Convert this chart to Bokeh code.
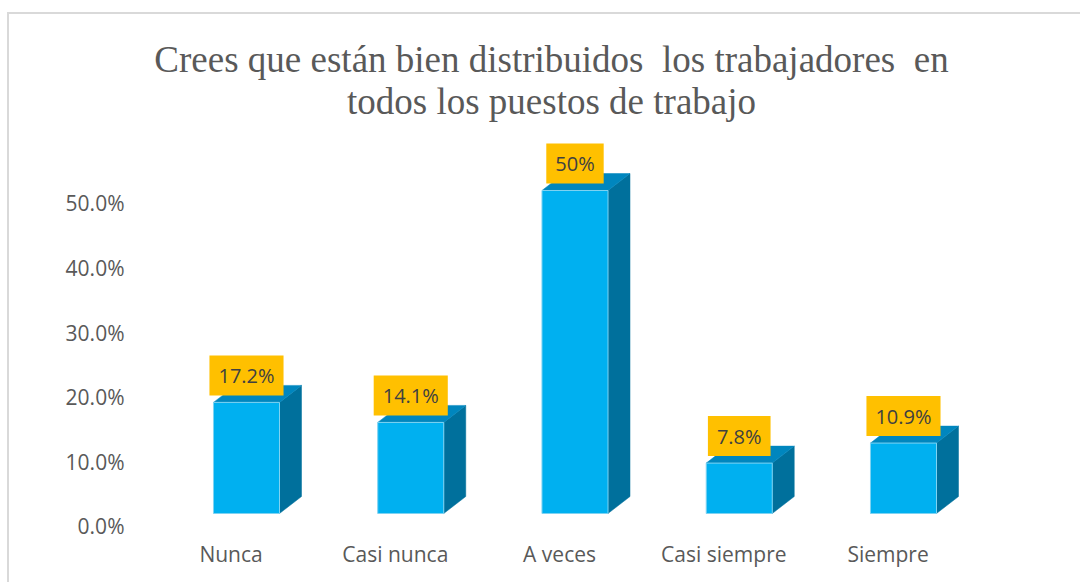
from bokeh.plotting import figure
from bokeh.models import Range1d, LinearAxis, FixedTicker, ColumnDataSource, Title
from bokeh.core.properties import value
from bokeh.embed import file_html
from bokeh.resources import INLINE

categories = ["Nunca", "Casi nunca", "A veces", "Casi siempre", "Siempre"]
values = [17.2, 14.1, 50.0, 7.8, 10.9]
value_labels = ["17.2%", "14.1%", "50%", "7.8%", "10.9%"]
y_ticks = [0, 10, 20, 30, 40, 50]
y_tick_labels = ["0.0%", "10.0%", "20.0%", "30.0%", "40.0%", "50.0%"]
title_lines = ["Crees que están bien distribuidos\u00a0 los trabajadores\u00a0 en",
               "todos los puestos de trabajo"]

FRONT = "#00B0F0"
SIDE = "#00709C"
TOP = "#0086BE"
GRAY = "#595959"

half_w = 0.201   # half width of the front face (category units)
dx = 0.134       # depth offset in x (category units)
dy = 2.63        # depth offset in y (percent units)

xs = list(range(len(categories)))

X0, X1 = -0.694, 4.408
Y0, Y1 = -2.632, 60.526

p = figure(width=1080, height=582,
           x_range=Range1d(X0, X1), y_range=Range1d(Y0, Y1),
           output_backend="svg", toolbar_location=None,
           min_border_left=132, min_border_right=110,
           min_border_top=122, min_border_bottom=52)
p.xaxis.visible = False
p.yaxis.visible = False
p.xgrid.visible = False
p.ygrid.visible = False
p.outline_line_color = None
p.background_fill_color = "white"
p.border_fill_alpha = 0

# axes with their own (projected) ranges, as in a 3-D chart
p.extra_y_ranges = {"axis": Range1d(Y0 + 2.0, Y1 + 2.0)}
p.extra_x_ranges = {"axis": Range1d(X0 + 0.094, X1 + 0.094)}

yax = LinearAxis(y_range_name="axis", ticker=FixedTicker(ticks=y_ticks))
yax.major_label_overrides = {t: l for t, l in zip(y_ticks, y_tick_labels)}
yax.axis_line_color = None
yax.major_tick_line_color = None
yax.minor_tick_line_color = None
yax.major_tick_out = 0
yax.major_label_standoff = 8
yax.major_label_text_font = "Open Sans"
yax.major_label_text_font_size = "21px"
yax.major_label_text_color = GRAY
p.add_layout(yax, "left")

xax = LinearAxis(x_range_name="axis", ticker=FixedTicker(ticks=xs))
xax.major_label_overrides = {i: c for i, c in zip(xs, categories)}
xax.axis_line_color = None
xax.major_tick_line_color = None
xax.minor_tick_line_color = None
xax.major_tick_out = 0
xax.major_label_standoff = 9
xax.major_label_text_font = "Open Sans"
xax.major_label_text_font_size = "21px"
xax.major_label_text_color = GRAY
p.add_layout(xax, "below")

# side and top faces
side_xs, side_ys, top_xs, top_ys = [], [], [], []
for x, v in zip(xs, values):
    x0, x1 = x - half_w, x + half_w
    side_xs.append([x1, x1 + dx, x1 + dx, x1])
    side_ys.append([0, dy, v + dy, v])
    top_xs.append([x0, x1, x1 + dx, x0 + dx])
    top_ys.append([v, v, v + dy, v + dy])

p.patches(side_xs, side_ys, fill_color=SIDE, line_color=SIDE, line_width=0.5)
p.patches(top_xs, top_ys, fill_color=TOP, line_color=TOP, line_width=0.5)
p.vbar(x=xs, top=values, bottom=0, width=2 * half_w,
       fill_color=FRONT, line_color="#7FD3F2", line_width=1)

src = ColumnDataSource(dict(x=xs, y=values, t=value_labels))
p.text(x="x", y="y", text="t", source=src,
       text_font=value("Open Sans"), text_font_size="20px",
       text_color="#404040", text_align="center", text_baseline="bottom",
       anchor="bottom_center", y_offset=-7,
       background_fill_color="#FFC000",
       padding=dict(left=9, right=9, top=7, bottom=6))

# title: lower line first so that it sits closest to the plot
for i, line in enumerate(reversed(title_lines)):
    t = Title(text=line, align="center", text_font="Liberation Serif",
              text_font_size="37px", text_font_style="normal",
              text_color=GRAY, standoff=(1 if i == 0 else -2))
    p.add_layout(t, "above")

# chart-area border (top and left edges visible)
p.styles = {"box-shadow": "inset 7px 12px 0 0 white, inset 9px 14px 0 0 #D9D9D9"}

open("out.html", "w").write(file_html(p, INLINE))
